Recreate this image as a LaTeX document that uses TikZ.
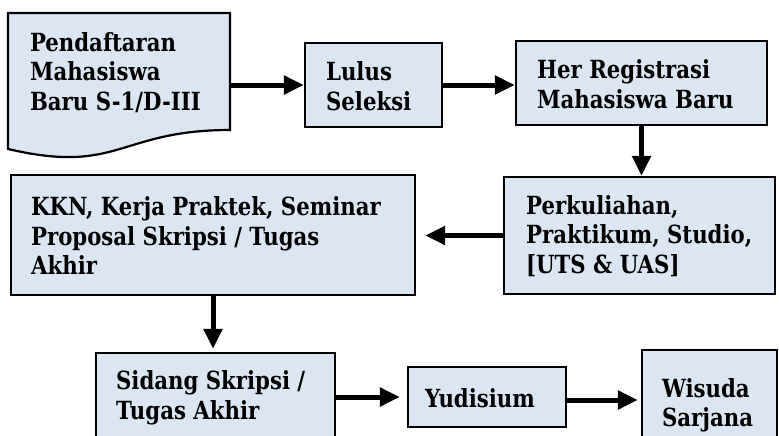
\documentclass[tikz,border=0pt]{standalone}
\usepackage{fontspec}
\setmainfont{DejaVu Serif}[FakeStretch=0.85]
\usetikzlibrary{arrows.meta,calc}
\definecolor{boxblue}{RGB}{220,230,242}
\tikzset{
  flowbox/.style={draw=black, line width=2.2pt, fill=boxblue, rectangle,
    inner sep=0pt},
  flowtext/.style={inner sep=0pt, anchor=west, align=left,
    font=\fontsize{25}{29.5}\selectfont\bfseries},
  flowarrow/.style={line width=5pt, -{Triangle[length=20pt,width=18pt]}},
}
\begin{document}
\begin{tikzpicture}[x=1pt,y=-1pt]
\clip (0,0) rectangle (779,436);
\fill[white] (0,0) rectangle (779,436);

% document shape: registration of new students
\draw[line width=2.2pt, fill=boxblue, line join=miter]
  (8,13) -- (230,13) -- (230,130)
  .. controls (119,130) and (119,175) .. (8,149) -- cycle;
\node[inner sep=0pt, minimum width=222pt, minimum height=119pt] (daftar) at (119,72.5) {};
\node[flowtext] (daftar-t) at ($(daftar.west)+(22,0)$)
  {Pendaftaran\\Mahasiswa\\Baru S-1/D-III};

% process steps
\node[flowbox, minimum width=137pt, minimum height=84pt] (lulus) at (373.5,85) {};
\node[flowtext] (lulus-t) at ($(lulus.west)+(22,1)$) {Lulus\\Seleksi};

\node[flowbox, minimum width=251pt, minimum height=84pt] (her) at (641.5,83) {};
\node[flowtext] (her-t) at ($(her.west)+(22,1)$) {Her Registrasi\\Mahasiswa Baru};

\node[flowbox, minimum width=271pt, minimum height=117pt] (kuliah) at (639.5,235.5) {};
\node[flowtext] (kuliah-t) at ($(kuliah.west)+(23,0.5)$)
  {Perkuliahan,\\Praktikum, Studio,\\{}[UTS \& UAS]};

\node[flowbox, minimum width=404pt, minimum height=120pt] (kkn) at (213,235) {};
\node[flowtext] (kkn-t) at ($(kkn.west)+(21,1)$)
  {KKN, Kerja Praktek, Seminar\\Proposal Skripsi / Tugas\\Akhir};

\node[flowbox, minimum width=239pt, minimum height=90pt] (sidang) at (215.5,398) {};
\node[flowtext] (sidang-t) at ($(sidang.west)+(21,0)$) {Sidang Skripsi /\\Tugas Akhir};

\node[flowbox, minimum width=158pt, minimum height=60pt] (yudisium) at (487,397) {};
\node[flowtext, anchor=center] (yudisium-t) at ($(yudisium.center)+(-7,1)$) {Yudisium};

\node[flowbox, minimum width=135pt, minimum height=111pt] (wisuda) at (709.5,405.5) {};
\node[flowtext] (wisuda-t) at ($(wisuda.west)+(21,0)$) {Wisuda\\Sarjana};

% connectors
\draw[flowarrow] (daftar.east |- lulus.west) -- (lulus.west);
\draw[flowarrow] (lulus.east) -- (her.west |- lulus.east);
\draw[flowarrow] (her.south) -- (her.south |- kuliah.north);
\draw[flowarrow, shorten >=9pt] (kuliah.west) -- (kkn.east |- kuliah.west);
\draw[flowarrow, shorten >=3pt] (kkn.south) -- (kkn.south |- sidang.north);
\draw[flowarrow, shorten >=7pt] (sidang.east |- yudisium.west) -- (yudisium.west);
\draw[flowarrow, shorten >=3pt] ($(yudisium.east)+(0,3)$) -- ($(wisuda.west |- yudisium.east)+(0,3)$);
\end{tikzpicture}
\end{document}
